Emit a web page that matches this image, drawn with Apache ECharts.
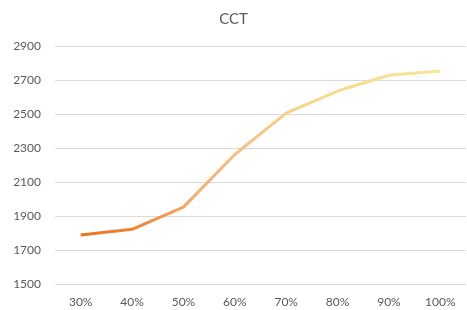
<!DOCTYPE html>
<html>
<head>
<meta charset="utf-8">
<script src="https://cdn.jsdelivr.net/npm/echarts@6/dist/echarts.min.js"></script>
<style>
  html, body { margin: 0; padding: 0; background: #fff; }
  #chart { width: 467px; height: 310px; }
</style>
</head>
<body>
<div id="chart"></div>
<script>
// data
var categories = ['30%', '40%', '50%', '60%', '70%', '80%', '90%', '100%']
var cctValues = [1788, 1822, 1952, 2262, 2505, 2635, 2728, 2753]
var yTicks = { min: 1500, max: 2900, step: 200 }

var chart = echarts.init(document.getElementById('chart'))
chart.setOption({
  animation: false,
  textStyle: { fontFamily: 'Lato, "Open Sans", sans-serif' },
  title: {
    text: 'CCT',
    left: 'center',
    top: 7,
    textStyle: { fontSize: 15, fontWeight: 'normal', color: '#595959', fontFamily: 'Lato, sans-serif' }
  },
  grid: { left: 55, right: 1, top: 46, bottom: 26 },
  xAxis: {
    type: 'category',
    data: categories,
    boundaryGap: true,
    axisLine: { show: false },
    axisTick: { show: false },
    axisLabel: { color: '#595959', fontSize: 12, margin: 12 }
  },
  yAxis: {
    type: 'value',
    min: yTicks.min,
    max: yTicks.max,
    interval: yTicks.step,
    axisLine: { show: false },
    axisTick: { show: false },
    axisLabel: {
      color: '#595959',
      fontSize: 12,
      margin: 14,
      formatter: function (v) { return String(v) }
    },
    splitLine: { lineStyle: { color: '#d9d9d9', width: 1 } }
  },
  series: [{
    type: 'line',
    data: cctValues,
    symbol: 'none',
    lineStyle: {
      width: 3,
      color: new echarts.graphic.LinearGradient(0, 0, 1, 0, [
        { offset: 0, color: '#E8741E' },
        { offset: 0.18, color: '#EC8A3A' },
        { offset: 0.32, color: '#F4AE74' },
        { offset: 0.48, color: '#F6C585' },
        { offset: 0.65, color: '#F7D98C' },
        { offset: 1, color: '#F8E497' }
      ])
    }
  }]
})
</script>
</body>
</html>
